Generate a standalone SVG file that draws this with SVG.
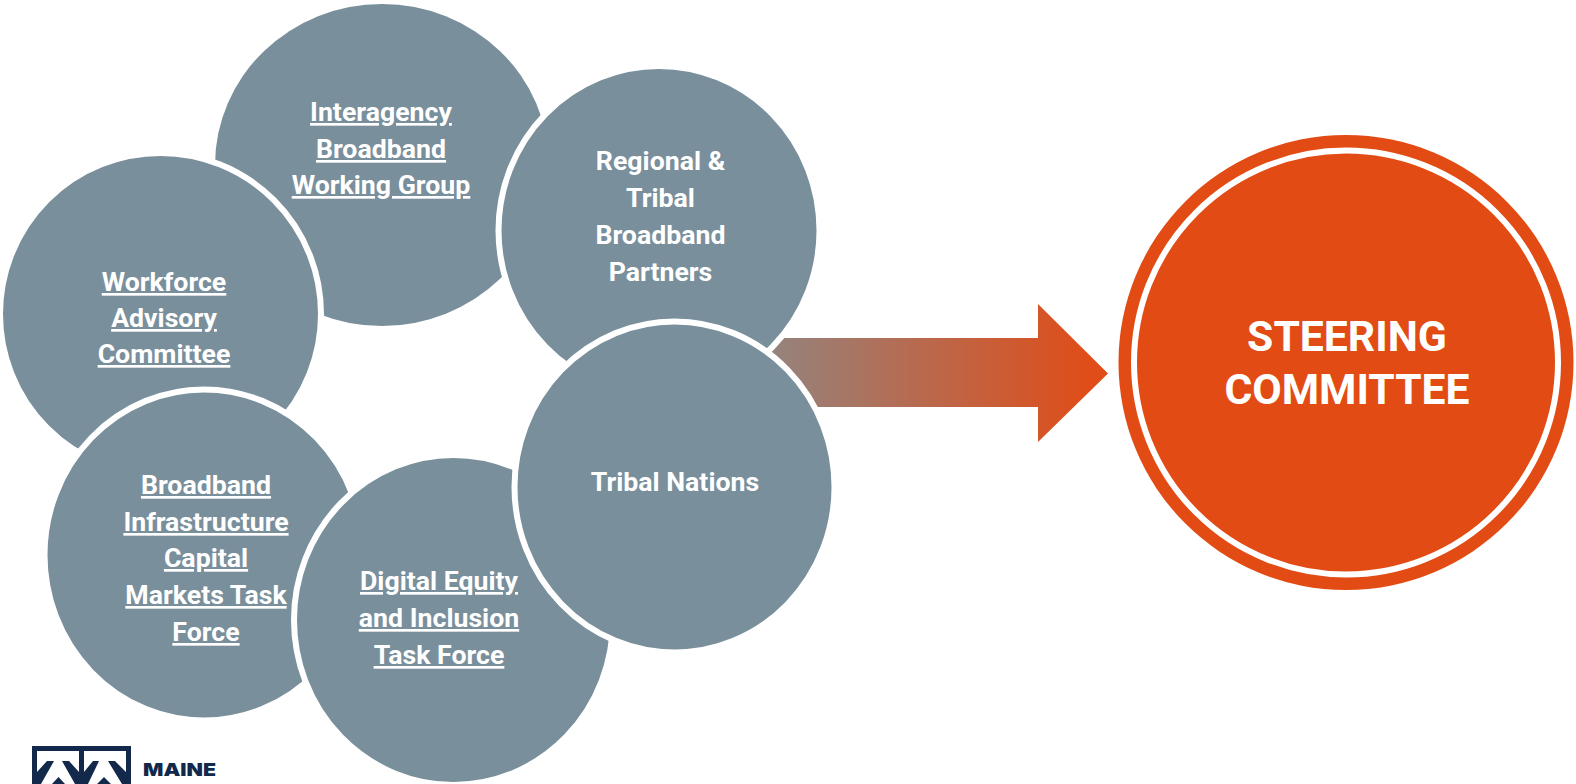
<svg xmlns="http://www.w3.org/2000/svg" width="1576" height="784" viewBox="0 0 1576 784">
<style>
.c{fill:#7a8f9c;stroke:#fff;stroke-width:6}
.t{font-family:Roboto,"Liberation Sans",sans-serif;font-weight:700;font-size:26.700px;fill:#fff;text-anchor:middle}
.u{text-decoration:underline;text-decoration-skip-ink:none;text-decoration-thickness:2.500px}
.s{font-size:42.700px}
.l{fill:#12294b}
</style>
<defs>
<linearGradient id="g" gradientUnits="userSpaceOnUse" x1="776" y1="0" x2="1090" y2="0">
<stop offset="0" stop-color="#96827c"/><stop offset="1" stop-color="#e04d18"/>
</linearGradient>
</defs>
<rect width="1576" height="784" fill="#fff"/>
<g id="connectors">
<path d="M720 338H1038V304L1108 373.500L1038 442V407H720Z" fill="url(#g)"/>
</g>
<g id="interagency">
<ellipse cx="382" cy="165" rx="167" ry="161" fill="#7a8f9c"/>
<text class="t u" x="381" y="121">Interagency</text>
<text class="t u" x="381" y="158">Broadband</text>
<text class="t u" x="381" y="194">Working Group</text>
</g>
<g id="workforce">
<ellipse class="c" cx="160.500" cy="314" rx="160.500" ry="161"/>
<text class="t u" x="164" y="291">Workforce</text>
<text class="t u" x="164" y="327">Advisory</text>
<text class="t u" x="164" y="363">Committee</text>
</g>
<g id="regional">
<ellipse class="c" cx="659" cy="230.500" rx="160.500" ry="164.500"/>
<text class="t" x="660.500" y="170">Regional &amp;</text>
<text class="t" x="660.500" y="207">Tribal</text>
<text class="t" x="660.500" y="244">Broadband</text>
<text class="t" x="660.500" y="281">Partners</text>
</g>
<g id="broadband">
<ellipse class="c" cx="204" cy="555" rx="159.500" ry="165.500"/>
<text class="t u" x="206" y="494">Broadband</text>
<text class="t u" x="206" y="531">Infrastructure</text>
<text class="t u" x="206" y="567">Capital</text>
<text class="t u" x="206" y="604">Markets Task</text>
<text class="t u" x="206" y="641">Force</text>
</g>
<g id="digital">
<ellipse class="c" cx="453.500" cy="620" rx="159.500" ry="165"/>
<text class="t u" x="439" y="590">Digital Equity</text>
<text class="t u" x="439" y="627">and Inclusion</text>
<text class="t u" x="439" y="664">Task Force</text>
</g>
<g id="tribal">
<ellipse class="c" cx="674.500" cy="487" rx="160" ry="165.500"/>
<text class="t" x="675" y="491">Tribal Nations</text>
</g>
<g id="steering">
<circle cx="1346" cy="362.500" r="227.500" fill="#e24c14"/>
<circle cx="1346" cy="362.500" r="212" fill="none" stroke="#fff" stroke-width="6"/>
<text class="t s" x="1347" y="351">STEERING</text>
<text class="t s" x="1347" y="404">COMMITTEE</text>
</g>
<g id="logo">
<path class="l" d="M32 784V746H131V784H126V751H84V784H79V751H37V784Z"/>
<path class="l" d="M37 772L47 761H54L41 784H37ZM62 761H69L79 772V784H75ZM58.500 777L65 784H52ZM84 772L93 761H99L88 784H84ZM108 761H115L126 772V784H122ZM104 777L111 784H97Z"/>
<text x="143" y="776" font-family="Inter,'Liberation Sans',sans-serif" font-weight="900" font-size="18" fill="#12294b" textLength="73" lengthAdjust="spacingAndGlyphs">MAINE</text>
</g>
</svg>
